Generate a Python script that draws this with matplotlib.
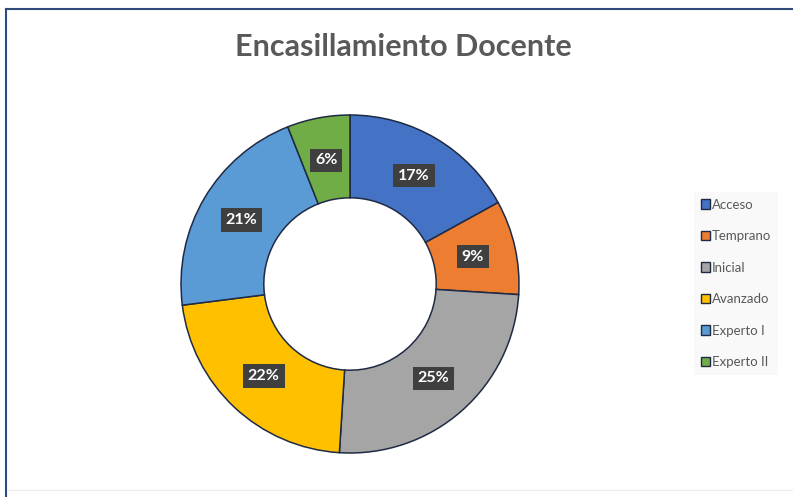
import numpy as np
import matplotlib.pyplot as plt
from matplotlib.patches import Patch
from matplotlib.lines import Line2D

# data
categories = ["Acceso", "Temprano", "Inicial", "Avanzado", "Experto I", "Experto II"]
percents = [17, 9, 25, 22, 21, 6]
colors = ["#4472C4", "#ED7D31", "#A5A5A5", "#FFC000", "#5B9BD5", "#70AD47"]

W, H = 793, 497
fig = plt.figure(figsize=(W / 100, H / 100), dpi=100)

# pie centre and radius in pixels
cx, cy, r = 350, 284, 169
pad = 1.02
ax = fig.add_axes([(cx - r * pad) / W, (H - cy - r * pad) / H, 2 * r * pad / W, 2 * r * pad / H])

wedges, _ = ax.pie(percents, colors=colors, startangle=90, counterclock=False,
                   radius=1, wedgeprops=dict(width=0.49, edgecolor="#1F2A44", linewidth=1.1))
ax.set_xlim(-pad, pad)
ax.set_ylim(-pad, pad)
ax.set_aspect("equal")
ax.axis("off")

# percentage labels
for w, p in zip(wedges, percents):
    mid = np.deg2rad((w.theta1 + w.theta2) / 2)
    x, y = 0.745 * np.cos(mid), 0.745 * np.sin(mid)
    ax.text(x, y, f"{p}%", ha="center", va="center", color="white",
            fontsize=11.5, fontweight="bold", family="Lato",
            bbox=dict(boxstyle="square,pad=0.3", facecolor="#3F3F3F", edgecolor="none"))

# title
fig.text(403 / W, 1 - 47 / H, "Encasillamiento Docente", ha="center", va="center",
         fontsize=22, fontweight="bold", color="#595959", family="Lato")

# legend
handles = [Patch(facecolor=c, edgecolor="#1F2A44", linewidth=1.0) for c in colors]
leg = fig.legend(handles, categories, loc="upper left",
                 bbox_to_anchor=(694 / W, 1 - 192 / H), frameon=True,
                 prop=dict(family="Lato", size=9.5), labelcolor="#595959",
                 handlelength=0.7, handleheight=0.7, handletextpad=0.15,
                 labelspacing=1.48, borderpad=0.5, borderaxespad=0)
leg.get_frame().set_facecolor("#F8F8F8")
leg.get_frame().set_edgecolor("none")
leg.get_frame().set_boxstyle("square", pad=0)

# outer frame (left and top visible)
fig.add_artist(Line2D([6 / W, 6 / W], [0, 1 - 9 / H], transform=fig.transFigure,
                      color="#2F4A7A", linewidth=1.5))
fig.add_artist(Line2D([6 / W, 1], [1 - 9 / H, 1 - 9 / H], transform=fig.transFigure,
                      color="#2F4A7A", linewidth=1.5))
fig.add_artist(Line2D([8 / W, 1], [1 - 490 / H, 1 - 490 / H], transform=fig.transFigure,
                      color="#EDEDED", linewidth=1.0))

fig.savefig("out.png", dpi=100, facecolor="white")
plt.close(fig)
